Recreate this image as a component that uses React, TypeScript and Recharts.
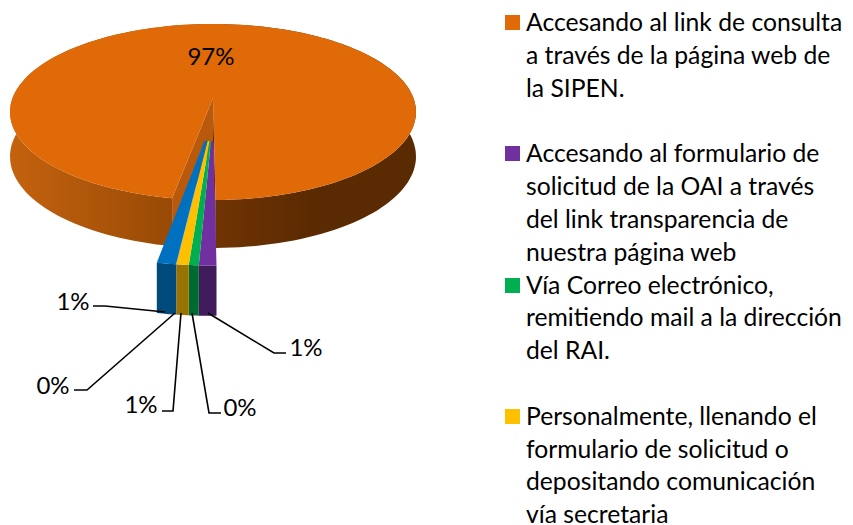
import { PieChart, Pie, Legend } from "recharts";

// slices run clockwise, starting from the cut at the front of the big orange piece
const CATEGORIES = [
  "Accesando al link de consulta\na través de la página web de\nla SIPEN.",
  "Accesando al formulario de\nsolicitud de la OAI a través\ndel link transparencia de\nnuestra página web",
  "Vía Correo electrónico,\nremitiendo mail a la dirección\ndel RAI.",
  "Personalmente, llenando el\nformulario de solicitud o\ndepositando comunicación\nvía secretaria",
  "",
  "",
];
const VALUES = [97.08, 0.86, 0.49, 0.6, 0.02, 0.95];
const COLORS = ["#E06A08", "#7030A0", "#00B050", "#FFC000", "#7F7F7F", "#0070C0"];
const WALL_COLORS = ["#5a2a02", "#401c5c", "#006b30", "#997300", "#4c4c4c", "#004a7c"];

const tableData = VALUES.map((value, i) => ({ name: CATEGORIES[i], value, fill: COLORS[i] }));

// where each percentage sits and how its leader runs to the slice
const LABEL_LAYOUT = [
  { x: 211, y: 55, line: [] as number[][] },
  { x: 306, y: 346, line: [[286, 353], [274, 353], [208, 313]] },
  { x: 240, y: 406, line: [[221, 413], [209, 413], [192, 313]] },
  { x: 141, y: 403, line: [[162, 411], [173, 411], [181, 313]] },
  { x: 53, y: 384, line: [[74, 390], [87, 390], [175, 313]] },
  { x: 73, y: 300, line: [[93, 306], [105, 306], [165, 312]] },
];

const FONT = "Lato, sans-serif";
const START_ANGLE = 260.1;

// fake 3d: the pie plane seen in perspective
const PERSPECTIVE = 0.159;
const TILT = 0.428;
const DEPTH = 44;

function project(cx: number, cy: number, r: number, u: number, v: number, z: number) {
  const w = 1 - PERSPECTIVE * v;
  return [cx + (r * u) / w, cy + (r * TILT * v) / w + (z * DEPTH) / Math.sqrt(w)];
}

const toPath = (pts: number[][]) =>
  "M" + pts.map((p) => `${p[0].toFixed(1)},${p[1].toFixed(1)}`).join("L") + "Z";

function Slice3D(props: any) {
  const { cx, cy, outerRadius, startAngle, endAngle, fill, index } = props;
  const i = index ?? COLORS.indexOf(fill);
  const big = i === 0;
  // the small slices are pulled out towards the viewer together
  const scale = big ? 1 : 1.25;
  const inner = big ? 0 : 0.18;
  const du = big ? 0 : 0;
  const dv = big ? 0 : 0.24;

  const at = (deg: number, rad: number, z: number) => {
    const a = (deg * Math.PI) / 180;
    return project(cx, cy, outerRadius, du + rad * scale * Math.cos(a), dv - rad * scale * Math.sin(a), z);
  };

  const steps = big ? 180 : 6;
  const rim: number[][] = [];
  const rimLow: number[][] = [];
  for (let s = 0; s <= steps; s++) {
    const deg = startAngle + ((endAngle - startAngle) * s) / steps;
    rim.push(at(deg, 1, 0));
    rimLow.push(at(deg, 1, 1));
  }
  const innerTop = [at(endAngle, inner, 0), at(startAngle, inner, 0)];
  const top = [...rim, ...innerTop];
  const wall = [...rim, ...rimLow.slice().reverse()];

  return (
    <g>
      {big && (
        <defs>
          <linearGradient id="orangeWall" gradientUnits="userSpaceOnUse" x1={10} y1={0} x2={416} y2={0}>
            <stop offset="0%" stopColor="#c4620e" />
            <stop offset="40%" stopColor="#984a06" />
            <stop offset="51%" stopColor="#703403" />
            <stop offset="75%" stopColor="#5a2a02" />
            <stop offset="100%" stopColor="#5a2a02" />
          </linearGradient>
        </defs>
      )}
      <path d={toPath(wall)} fill={big ? "url(#orangeWall)" : WALL_COLORS[i]} />
      {big && (
        <>
          <path
            d={toPath([at(endAngle, 0, 0), at(endAngle, 1, 0), at(endAngle, 1, 1), at(endAngle, 0, 1)])}
            fill="#5a2a02"
          />
          <path
            d={toPath([at(startAngle, 0, 0), at(startAngle, 1, 0), at(startAngle, 1, 1), at(startAngle, 0, 1)])}
            fill="#b8590b"
          />
        </>
      )}
      <path d={toPath(top)} fill={fill} />
    </g>
  );
}

function renderLabel(props: any) {
  const { index, value } = props;
  const spot = LABEL_LAYOUT[index];
  return (
    <g key={index}>
      {spot.line.length > 0 && (
        <polyline points={spot.line.map((p) => p.join(",")).join(" ")} fill="none" stroke="#000" strokeWidth={1.6} />
      )}
      <text x={spot.x} y={spot.y} textAnchor="middle" dominantBaseline="central" fill="#000" fontFamily={FONT} fontSize={24}>
        {Math.round(value)}%
      </text>
    </g>
  );
}

function LegendList({ payload }: any) {
  const items = (payload ?? []).filter((p: any) => p.value);
  return (
    <div style={{ fontFamily: FONT, fontSize: 24.7, lineHeight: "32.8px", color: "#000" }}>
      {items.map((item: any) => (
        <div key={item.value} style={{ position: "relative", height: 131.3, paddingLeft: 21, whiteSpace: "pre" }}>
          <span style={{ position: "absolute", left: 0, top: 9, width: 15, height: 15, background: item.color }} />
          {item.value}
        </div>
      ))}
    </div>
  );
}

export default function App() {
  return (
    <div style={{ position: "absolute", left: 0, top: 0, width: 853, height: 525, overflow: "hidden", background: "#fff" }}>
      <PieChart width={853} height={525} margin={{ top: 0, right: 0, bottom: 0, left: 0 }}>
        <Pie
          data={tableData}
          dataKey="value"
          nameKey="name"
          cx={213}
          cy={98}
          outerRadius={200.4}
          startAngle={START_ANGLE}
          endAngle={START_ANGLE - 360}
          stroke="none"
          isAnimationActive={false}
          shape={Slice3D}
          label={renderLabel}
          labelLine={false}
        />
        <Legend
          layout="vertical"
          align="right"
          verticalAlign="top"
          itemSorter={null}
          content={<LegendList />}
          wrapperStyle={{ position: "absolute", left: 505, top: 6, width: 348, height: 525 }}
        />
      </PieChart>
    </div>
  );
}
